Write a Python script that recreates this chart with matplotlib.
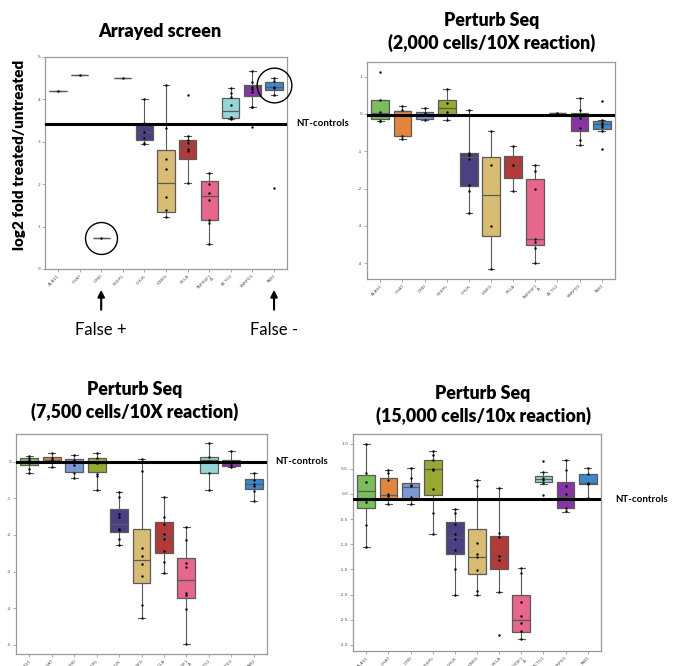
import numpy as np
import matplotlib
matplotlib.use("Agg")
import matplotlib.pyplot as plt

genes = ['ALAS1', 'CHAT', 'DMD', 'REEP5', 'CHUK', 'IKBKG', 'RELA',
         'TNFRSF1\nA', 'ACTG1', 'SNRPD1', 'TAB1']
colors = ['#79be5a', '#e2863e', '#7a98d6', '#98a832', '#4a4082', '#d8bc74',
          '#b43a3a', '#e6668c', '#96d6d6', '#8834a4', '#3a88ce']

# ---- Arrayed screen: box stats (q1, median, q3, whisker low, whisker high) + points
arr_q1 = [4.20, 4.57, 0.73, 4.51, 3.04, 1.35, 2.60, 1.15, 3.56, 4.08, 4.22]
arr_med = [4.20, 4.57, 0.73, 4.51, 3.24, 2.04, 2.90, 1.72, 3.72, 4.30, 4.30]
arr_q3 = [4.20, 4.57, 0.73, 4.51, 3.41, 2.80, 3.05, 2.07, 4.03, 4.35, 4.40]
arr_lo = [4.20, 4.57, 0.73, 4.51, 2.95, 1.22, 2.03, 0.60, 3.53, 3.81, 4.10]
arr_hi = [4.20, 4.57, 0.73, 4.51, 4.00, 4.33, 3.13, 2.27, 4.27, 4.68, 4.50]
arr_pts = [[4.20], [4.57], [0.73], [4.51],
           [4.00, 3.45, 3.24, 3.10, 2.97, 2.95],
           [4.33, 3.33, 2.60, 2.35, 1.70, 1.38, 1.22],
           [4.10, 3.13, 3.05, 2.97, 2.82, 2.78, 2.03],
           [2.27, 2.00, 1.80, 1.63, 1.15, 1.08, 0.60],
           [4.27, 4.15, 4.05, 3.86, 3.58, 3.55, 3.53],
           [4.68, 4.40, 4.30, 4.25, 4.18, 3.82, 3.81, 3.35],
           [4.50, 4.43, 4.30, 4.28, 4.10, 1.91]]
arr_nt = 3.42

# ---- Perturb Seq 2,000 cells
p2_q1 = [-0.14, -0.58, -0.14, 0.00, -1.93, -3.28, -1.72, -3.52, 0.03, -0.47, -0.40]
p2_med = [0.03, 0.07, -0.03, 0.17, -1.15, -2.18, -1.36, -3.35, 0.03, -0.08, -0.27]
p2_q3 = [0.36, 0.08, 0.06, 0.38, -1.05, -1.15, -1.12, -1.75, 0.03, 0.02, -0.20]
p2_lo = [-0.20, -0.68, -0.16, -0.15, -2.65, -4.15, -2.07, -3.98, 0.03, -0.82, -0.47]
p2_hi = [0.37, 0.20, 0.16, 0.66, 0.10, -0.46, -0.87, -1.37, 0.03, 0.42, -0.15]
p2_pts = [[1.12, 0.37, 0.04, -0.18, -0.20],
          [0.20, 0.10, -0.58, -0.67],
          [0.16, 0.03, -0.15],
          [0.66, 0.30, 0.05, -0.15],
          [0.10, -1.05, -1.10, -1.20, -1.90, -2.07, -2.65],
          [-0.46, -1.38, -3.00, -4.15],
          [-0.87, -1.36, -2.07],
          [-1.37, -1.52, -2.00, -3.35, -3.42, -3.60, -3.98],
          [0.03],
          [0.42, 0.10, -0.12, -0.38, -0.70, -0.82],
          [0.35, -0.15, -0.25, -0.30, -0.35, -0.47, -0.95]]
p2_nt = -0.02

# ---- Perturb Seq 7,500 cells
p7_q1 = [-0.10, -0.02, -0.28, -0.28, -1.93, -3.30, -2.50, -3.73, -0.32, -0.12, -0.75]
p7_med = [0.00, 0.05, -0.02, -0.05, -1.70, -2.68, -2.05, -3.22, 0.05, -0.02, -0.62]
p7_q3 = [0.10, 0.13, 0.08, 0.10, -1.30, -1.83, -1.65, -2.62, 0.12, 0.05, -0.48]
p7_lo = [-0.30, -0.15, -0.45, -0.78, -2.27, -4.27, -3.05, -4.97, -0.78, -0.15, -1.08]
p7_hi = [0.15, 0.22, 0.17, 0.22, -0.83, 0.08, -0.98, -1.78, 0.50, 0.30, -0.30]
p7_pts = [[0.15, 0.10, 0.05, -0.05, -0.20, -0.30],
          [0.22, 0.10, 0.05, -0.15],
          [0.17, 0.05, -0.10, -0.30, -0.45],
          [0.22, 0.10, -0.05, -0.35, -0.40, -0.78],
          [-0.83, -0.98, -1.42, -1.52, -1.85, -1.88, -2.10, -2.27],
          [0.08, -0.25, -2.35, -2.57, -2.80, -3.12, -3.92, -4.27],
          [-0.98, -1.52, -1.70, -1.97, -2.12, -2.45, -2.75, -3.05],
          [-1.78, -2.15, -2.78, -2.88, -3.58, -3.65, -4.03, -4.97],
          [0.50, 0.12, 0.02, -0.30, -0.78],
          [0.30, 0.00, -0.10, -0.15],
          [-0.30, -0.50, -0.60, -0.68, -0.80, -1.08]]
p7_nt = -0.02

# ---- Perturb Seq 15,000 cells
p15_q1 = [-0.28, -0.10, -0.10, -0.03, -1.20, -1.60, -1.50, -2.75, 0.23, -0.28, 0.20]
p15_med = [0.05, -0.03, 0.14, 0.50, -0.85, -1.25, -1.23, -2.50, 0.30, -0.05, 0.22]
p15_q3 = [0.37, 0.32, 0.22, 0.68, -0.55, -0.70, -0.83, -2.00, 0.35, 0.23, 0.40]
p15_lo = [-1.05, -0.20, -0.20, -0.80, -2.00, -2.00, -1.95, -2.88, 0.20, -0.35, -0.08]
p15_hi = [1.00, 0.47, 0.52, 0.85, -0.30, 0.27, 0.12, -1.47, 0.43, 0.67, 0.52]
p15_pts = [[1.00, 0.42, 0.23, -0.10, -0.17, -0.62, -1.05],
           [0.47, 0.42, 0.28, 0.00, -0.05, -0.20],
           [0.52, 0.32, 0.18, 0.15, -0.07, -0.20],
           [0.85, 0.77, 0.68, 0.50, 0.47, 0.10, -0.37, -0.80],
           [-0.30, -0.38, -0.60, -0.80, -0.90, -1.12, -1.50, -2.00],
           [0.27, 0.15, -0.98, -1.20, -1.25, -1.52, -1.92, -2.00],
           [0.12, -0.77, -0.86, -1.23, -1.32, -1.95, -2.80],
           [-1.47, -1.57, -2.15, -2.43, -2.57, -2.72, -2.88],
           [0.65, 0.43, 0.32, 0.28, 0.22, -0.03],
           [0.67, 0.48, 0.15, 0.00, -0.28, -0.33],
           [0.52, 0.40, 0.22, 0.20, -0.08]]
p15_nt = -0.11

W, H = 678, 666
fig = plt.figure(figsize=(W / 100, H / 100), dpi=100)
fig.patch.set_facecolor('white')

tfont = 'Lato'


def panel(rect, q1, med, q3, lo, hi, pts, nt, ylim, yticks, ytl):
    ax = fig.add_axes(rect)
    stats = []
    for i in range(len(genes)):
        stats.append(dict(q1=q1[i], med=med[i], q3=q3[i], whislo=lo[i], whishi=hi[i], fliers=[]))
    bp = ax.bxp(stats, positions=range(len(genes)), widths=0.8, patch_artist=True,
                showfliers=False, capwidths=0.3,
                boxprops=dict(edgecolor='#5a5a5a', linewidth=0.9),
                medianprops=dict(color='#5a5a5a', linewidth=0.9),
                whiskerprops=dict(color='#5a5a5a', linewidth=0.8),
                capprops=dict(color='#5a5a5a', linewidth=0.8))
    for patch, c in zip(bp['boxes'], colors):
        patch.set_facecolor(c)
    for i, p in enumerate(pts):
        ax.scatter(np.full(len(p), i), p, s=3, color='black', zorder=4, linewidths=0)
    ax.axhline(nt, color='black', lw=2.2, zorder=5)
    ax.set_xlim(-0.6, len(genes) - 0.4)
    ax.set_ylim(*ylim)
    ax.set_yticks(yticks)
    ax.set_yticklabels(ytl)
    ax.set_xticks(range(len(genes)))
    ax.set_xticklabels(genes, rotation=45, ha='right', rotation_mode='anchor')
    ax.tick_params(labelsize=3.2, labelcolor='#555555', length=2, width=0.5, color='#888888', pad=1.5)
    for s in ax.spines.values():
        s.set_color('#999999')
        s.set_linewidth(0.9)
    return ax


ax1 = panel([45 / W, 1 - 269 / H, 242 / W, 212 / H], arr_q1, arr_med, arr_q3, arr_lo, arr_hi,
            arr_pts, arr_nt, (0, 5), range(0, 6), [str(v) for v in range(0, 6)])
ax2 = panel([367 / W, 1 - 279 / H, 248 / W, 217 / H], p2_q1, p2_med, p2_q3, p2_lo, p2_hi,
            p2_pts, p2_nt, (-4.42, 1.39), range(-4, 2), [str(v) for v in range(-4, 2)])
ax3 = panel([16 / W, 1 - 654 / H, 251 / W, 220 / H], p7_q1, p7_med, p7_q3, p7_lo, p7_hi,
            p7_pts, p7_nt, (-5.25, 0.75), range(-5, 1), [str(v) for v in range(-5, 1)])
t15 = np.arange(-3.0, 1.01, 0.5)
ax4 = panel([353 / W, 1 - 651 / H, 248 / W, 217 / H], p15_q1, p15_med, p15_q3, p15_lo, p15_hi,
            p15_pts, p15_nt, (-3.12, 1.19), t15, ['%.1f' % v for v in t15])

# titles
fig.text(160 / W, 1 - 32 / H, 'Arrayed screen', ha='center', va='center',
         fontsize=13, fontweight='heavy', family=tfont)
fig.text(492 / W, 1 - 32 / H, 'Perturb Seq\n(2,000 cells/10X reaction)', ha='center', va='center',
         fontsize=12.8, fontweight='heavy', family=tfont, linespacing=1.3)
fig.text(135 / W, 1 - 401 / H, 'Perturb Seq\n(7,500 cells/10X reaction)', ha='center', va='center',
         fontsize=12.8, fontweight='heavy', family=tfont, linespacing=1.3)
fig.text(483 / W, 1 - 405 / H, 'Perturb Seq\n(15,000 cells/10x reaction)', ha='center', va='center',
         fontsize=12.8, fontweight='heavy', family=tfont, linespacing=1.3)

fig.text(20 / W, 1 - 155 / H, 'log2 fold treated/untreated', rotation=90, ha='center', va='center',
         fontsize=11, fontweight='heavy', family=tfont)

# NT-controls labels
fig.text(296 / W, 1 - 124 / H, 'NT-controls', ha='left', va='center', fontsize=7,
         fontweight='bold', family=tfont)
fig.text(275 / W, 1 - 462 / H, 'NT-controls', ha='left', va='center', fontsize=7,
         fontweight='bold', family=tfont)
fig.text(615 / W, 1 - 500 / H, 'NT-controls', ha='left', va='center', fontsize=7,
         fontweight='bold', family=tfont)

# false positive / negative call-outs
ax1.plot(2, 0.73, 'o', ms=23, mfc='none', mec='black', mew=1.0, clip_on=False, zorder=6)
ax1.plot(10, 4.33, 'o', ms=25, mfc='none', mec='black', mew=1.0, clip_on=False, zorder=6)
for xi, lab in [(2, 'False +'), (10, 'False -')]:
    ax1.annotate('', xy=(xi, -0.085), xytext=(xi, -0.205),
                 xycoords=('data', 'axes fraction'), textcoords=('data', 'axes fraction'),
                 arrowprops=dict(arrowstyle='-|>', color='black', lw=1.5, mutation_scale=10))
    ax1.annotate(lab, xy=(xi, -0.29), xycoords=('data', 'axes fraction'), ha='center', va='center',
                 fontsize=12, family=tfont, annotation_clip=False)

fig.savefig('out.png', dpi=100)
